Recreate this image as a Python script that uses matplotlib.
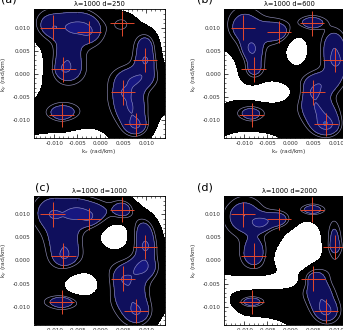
import numpy as np
import matplotlib.pyplot as plt
from matplotlib.ticker import MultipleLocator

# source positions (rad/km) with their error bars, the same in all panels
src_x = [-0.0103, -0.0024, 0.0048, 0.0098, -0.0080, 0.0050, -0.0084, 0.0078]
src_y = [0.0100, 0.0090, 0.0110, 0.0030, 0.0010, -0.0040, -0.0090, -0.0110]
src_xerr = [0.0027, 0.0026, 0.0026, 0.0026, 0.0027, 0.0026, 0.0027, 0.0026]
src_yerr = [0.0027, 0.0024, 0.0027, 0.0026, 0.0027, 0.0027, 0.0026, 0.0026]

titles = ['λ=1000 d=250', 'λ=1000 d=600', 'λ=1000 d=1000', 'λ=1000 d=2000']
panel_tags = ['(a)', '(b)', '(c)', '(d)']

# bright lobes of each map: (x, y, rx, ry, weight)
lobes_a = [(-0.0110, 0.0102, 0.0032, 0.0028, 1), (-0.0060, 0.0103, 0.0027, 0.0025, 1),
           (-0.0025, 0.0098, 0.0025, 0.0027, 1), (-0.0072, 0.0045, 0.0025, 0.0027, 1),
           (-0.0072, 0.0008, 0.0027, 0.0023, 1), (0.0100, 0.0065, 0.0019, 0.0023, 1),
           (0.0100, 0.0025, 0.0020, 0.0025, 1), (0.0080, -0.0010, 0.0035, 0.0020, 1),
           (0.0060, -0.0045, 0.0029, 0.0030, 1), (0.0070, -0.0085, 0.0029, 0.0027, 1),
           (0.0080, -0.0115, 0.0023, 0.0018, 1), (-0.0082, -0.0084, 0.0030, 0.0016, 1),
           (0.0048, 0.0110, 0.0025, 0.0020, 0.35)]
holes_a = [(-0.0178, 0.0048, 0.0055, 0.0058, 1), (-0.0172, -0.0020, 0.0036, 0.0042, 1),
           (-0.0110, -0.0185, 0.0090, 0.0056, 1), (-0.0015, -0.0180, 0.0040, 0.0048, 1),
           (0.0030, 0.0180, 0.0036, 0.0038, 1), (0.0100, 0.0168, 0.0042, 0.0052, 1),
           (0.0168, 0.0100, 0.0048, 0.0052, 1), (0.0188, 0.0030, 0.0042, 0.0040, 1),
           (0.0152, -0.0165, 0.0052, 0.0082, 1)]

lobes_b = [(-0.0100, 0.0097, 0.0031, 0.0034, 1), (-0.0035, 0.0091, 0.0032, 0.0020, 1),
           (-0.0080, 0.0018, 0.0020, 0.0032, 1), (-0.0085, 0.0055, 0.0018, 0.0018, 1),
           (0.0047, 0.0111, 0.0022, 0.0010, 1), (0.0095, 0.0060, 0.0020, 0.0028, 1),
           (0.0100, 0.0020, 0.0020, 0.0028, 1), (0.0065, -0.0020, 0.0032, 0.0020, 1),
           (0.0050, -0.0055, 0.0027, 0.0027, 1), (0.0070, -0.0090, 0.0032, 0.0025, 1),
           (0.0080, -0.0115, 0.0027, 0.0018, 1), (-0.0088, -0.0085, 0.0029, 0.0016, 1)]
holes_b = [(0.0014, 0.0052, 0.0024, 0.0034, 1), (-0.0180, 0.0000, 0.0078, 0.0068, 1),
           (-0.0045, -0.0040, 0.0050, 0.0022, 1), (-0.0080, -0.0185, 0.0095, 0.0058, 1),
           (0.0172, 0.0142, 0.0035, 0.0045, 1), (0.0168, -0.0140, 0.0045, 0.0070, 1)]

lobes_c = [(-0.0105, 0.0103, 0.0030, 0.0030, 1), (-0.0055, 0.0105, 0.0027, 0.0025, 1),
           (-0.0015, 0.0100, 0.0032, 0.0022, 1), (-0.0080, 0.0050, 0.0027, 0.0027, 1),
           (-0.0075, 0.0010, 0.0025, 0.0023, 1), (0.0050, 0.0111, 0.0020, 0.0018, 1),
           (0.0095, 0.0065, 0.0021, 0.0027, 1), (0.0100, 0.0025, 0.0020, 0.0029, 1),
           (0.0095, -0.0015, 0.0022, 0.0018, 1), (0.0060, -0.0035, 0.0032, 0.0029, 1),
           (0.0065, -0.0080, 0.0029, 0.0027, 1), (0.0085, -0.0115, 0.0027, 0.0023, 1),
           (-0.0082, -0.0090, 0.0028, 0.0011, 1)]
holes_c = [(0.0033, 0.0054, 0.0034, 0.0032, 1), (-0.0040, -0.0052, 0.0038, 0.0027, 1),
           (0.0082, 0.0178, 0.0038, 0.0040, 1), (0.0142, 0.0142, 0.0048, 0.0058, 1),
           (0.0188, 0.0050, 0.0043, 0.0058, 1), (0.0160, -0.0172, 0.0050, 0.0070, 1),
           (-0.0170, -0.0162, 0.0040, 0.0035, 1)]

lobes_d = [(-0.0100, 0.0095, 0.0031, 0.0030, 1), (-0.0030, 0.0088, 0.0027, 0.0015, 1),
           (-0.0065, 0.0080, 0.0018, 0.0014, 1), (-0.0078, 0.0018, 0.0022, 0.0028, 1),
           (0.0047, 0.0110, 0.0022, 0.0009, 1), (0.0095, 0.0045, 0.0015, 0.0037, 1),
           (0.0050, -0.0040, 0.0026, 0.0028, 1), (0.0065, -0.0080, 0.0023, 0.0032, 1),
           (0.0080, -0.0110, 0.0020, 0.0020, 1), (-0.0085, -0.0090, 0.0024, 0.0009, 1)]
holes_d = [(0.0030, 0.0035, 0.0045, 0.0052, 1), (0.0005, 0.0002, 0.0035, 0.0025, 1),
           (-0.0070, -0.0047, 0.0095, 0.0015, 1), (-0.0070, -0.0185, 0.0095, 0.0062, 1),
           (-0.0180, -0.0090, 0.0045, 0.0045, 1), (-0.0168, 0.0162, 0.0022, 0.0022, 1),
           (0.0178, 0.0090, 0.0045, 0.0065, 1)]

all_lobes = [lobes_a, lobes_b, lobes_c, lobes_d]
all_holes = [holes_a, holes_b, holes_c, holes_d]

# axes boxes in figure pixels: left, top (from top of figure)
boxes = [(33.5, 9.3), (223.7, 9.3), (33.5, 196), (223.7, 196)]
tag_pos = [(1, 4.5), (197, 4.5), (35, 193), (197, 193)]
W, H = 343, 330
AX_W, AX_H = 131, 129


def blob(X, Y, x0, y0, rx, ry):
    q = ((X - x0) / rx) ** 2 + ((Y - y0) / ry) ** 2
    return np.exp(-np.log(2) * q)


def make_map(lobes, holes):
    gx = np.linspace(-0.0145, 0.0140, 320)
    gy = np.linspace(-0.0140, 0.0140, 320)
    X, Y = np.meshgrid(gx, gy)
    f = np.zeros_like(X)
    for x0, y0, rx, ry, w in lobes:
        f += w * blob(X, Y, x0, y0, rx, ry)
    for x0, y0, rx, ry, w in holes:
        f -= w * blob(X, Y, x0, y0, rx, ry)
    for x0, y0 in zip(src_x, src_y):
        f += 0.3 * blob(X, Y, x0, y0, 0.0012, 0.0010)
    return X, Y, f


fig = plt.figure(figsize=(W / 100, H / 100), dpi=100)
levels = [-50, -0.5, 0.5, 1.3, 1.75, 50]
fills = ['white', 'black', '#0f0f5c', '#171780', '#3454b4']

for i in range(4):
    left, top = boxes[i]
    ax = fig.add_axes([left / W, 1 - (top + AX_H) / H, AX_W / W, AX_H / H])
    X, Y, f = make_map(all_lobes[i], all_holes[i])
    ax.contourf(X, Y, f, levels=levels, colors=fills)
    ax.contour(X, Y, f, levels=[0.22, 0.5, 1.3], colors='#8e8cb6', linewidths=0.45)
    ax.errorbar(src_x, src_y, xerr=src_xerr, yerr=src_yerr, fmt='none',
                ecolor='#e4482c', elinewidth=0.7, capsize=0)
    ax.set_xlim(-0.0145, 0.0140)
    ax.set_ylim(-0.0140, 0.0140)
    ax.xaxis.set_major_locator(MultipleLocator(0.005))
    ax.yaxis.set_major_locator(MultipleLocator(0.005))
    ax.xaxis.set_minor_locator(MultipleLocator(0.001))
    ax.yaxis.set_minor_locator(MultipleLocator(0.001))
    ax.xaxis.set_major_formatter(plt.FormatStrFormatter('%.3f'))
    ax.yaxis.set_major_formatter(plt.FormatStrFormatter('%.3f'))
    ax.tick_params(which='both', direction='in', top=True, right=True, labelsize=4.1,
                   pad=2, labelcolor='#333333')
    ax.tick_params(which='major', length=3, width=0.5)
    ax.tick_params(which='minor', length=1.5, width=0.4)
    for s in ax.spines.values():
        s.set_linewidth(0.6)
    ax.set_xlabel('k$_x$ (rad/km)', fontsize=4.3, labelpad=1, color='#333333')
    ax.set_ylabel('k$_y$ (rad/km)', fontsize=4.3, labelpad=2, color='#333333')
    ax.set_title(titles[i], fontsize=4.8, pad=2.5)
    tx, ty = tag_pos[i]
    fig.text(tx / W, 1 - ty / H, panel_tags[i], fontsize=8, va='bottom', ha='left')

fig.savefig('out.png', dpi=100)
